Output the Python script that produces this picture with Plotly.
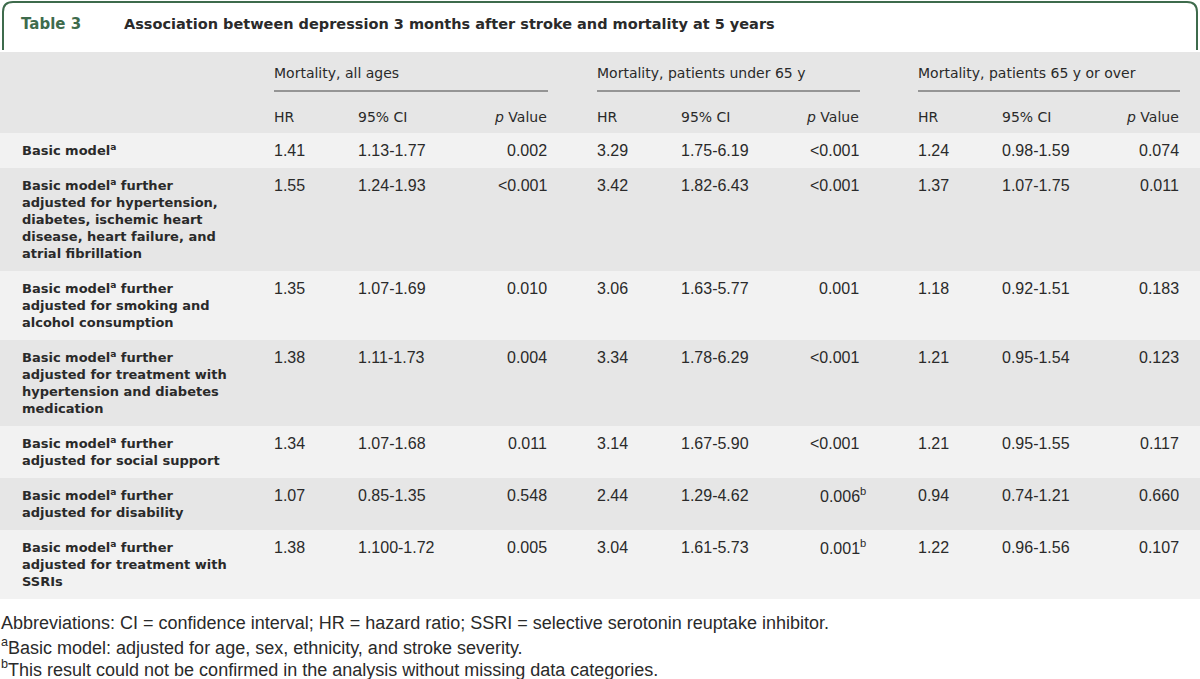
import plotly.graph_objects as go

# ---------------- data ----------------
table_tag = "Table 3"
table_title = "Association between depression 3 months after stroke and mortality at 5 years"
group_headers = ["Mortality, all ages", "Mortality, patients under 65 y", "Mortality, patients 65 y or over"]
sub_headers = ["HR", "95% CI", "<i>p</i> Value"]

row_labels = [
    ["Basic model<sup>a</sup>"],
    ["Basic model<sup>a</sup> further", "adjusted for hypertension,", "diabetes, ischemic heart",
     "disease, heart failure, and", "atrial fibrillation"],
    ["Basic model<sup>a</sup> further", "adjusted for smoking and", "alcohol consumption"],
    ["Basic model<sup>a</sup> further", "adjusted for treatment with", "hypertension and diabetes", "medication"],
    ["Basic model<sup>a</sup> further", "adjusted for social support"],
    ["Basic model<sup>a</sup> further", "adjusted for disability"],
    ["Basic model<sup>a</sup> further", "adjusted for treatment with", "SSRIs"],
]

hr_all = ["1.41", "1.55", "1.35", "1.38", "1.34", "1.07", "1.38"]
ci_all = ["1.13-1.77", "1.24-1.93", "1.07-1.69", "1.11-1.73", "1.07-1.68", "0.85-1.35", "1.100-1.72"]
p_all = ["0.002", "&lt;0.001", "0.010", "0.004", "0.011", "0.548", "0.005"]

hr_under65 = ["3.29", "3.42", "3.06", "3.34", "3.14", "2.44", "3.04"]
ci_under65 = ["1.75-6.19", "1.82-6.43", "1.63-5.77", "1.78-6.29", "1.67-5.90", "1.29-4.62", "1.61-5.73"]
p_under65 = ["&lt;0.001", "&lt;0.001", "0.001", "&lt;0.001", "&lt;0.001", "0.006", "0.001"]
p_under65_notes = ["", "", "", "", "", "b", "b"]

hr_over65 = ["1.24", "1.37", "1.18", "1.21", "1.21", "0.94", "1.22"]
ci_over65 = ["0.98-1.59", "1.07-1.75", "0.92-1.51", "0.95-1.54", "0.95-1.55", "0.74-1.21", "0.96-1.56"]
p_over65 = ["0.074", "0.011", "0.183", "0.123", "0.117", "0.660", "0.107"]

footnotes = [
    "Abbreviations: CI = confidence interval; HR = hazard ratio; SSRI = selective serotonin reuptake inhibitor.",
    "<sup>a</sup>Basic model: adjusted for age, sex, ethnicity, and stroke severity.",
    "<sup>b</sup>This result could not be confirmed in the analysis without missing data categories.",
]

# ---------------- style / layout ----------------
W, H = 1200, 679
GREEN = "#3e6b4c"
TXT = "#2a2a2a"
DARK_BG = "#e6e6e6"
LIGHT_BG = "#f2f2f2"
HEAD_FONT = "DejaVu Sans"
NUM_FONT = "Liberation Sans"

group_x = [273, 596, 917]          # left of HR column per group
ci_off = 84                         # CI column offset from HR
p_right = [548, 860, 1180]          # right edge of p column per group

header_top, header_bottom = 52, 133
group_y, underline_y, sub_y = 73, 91, 117
line_h, pad, first_off = 17.0, 18.0, 17.5
SUP_SHIFT = 1  # superscript enlarges the text box; recentre the baseline

fig = go.Figure()
fig.add_trace(go.Scatter(x=[0, W], y=[0, H], mode="markers", marker=dict(opacity=0),
                         hoverinfo="skip", showlegend=False))

shapes = []
ann = []

def text(x, y, s, size, family, color=TXT, anchor="left", bold=False):
    if "<sup>" in s:
        y -= SUP_SHIFT
    if bold:
        s = "<b>" + s + "</b>"
    ann.append(dict(x=x, y=y, xref="x", yref="y", text=s, showarrow=False,
                    xanchor=anchor, yanchor="middle", borderpad=0,
                    font=dict(size=size, family=family, color=color)))

# title tab
r = 10
path = (f"M 3 50 L 3 {2 + r} Q 3 2 {3 + r} 2 L {1197 - r} 2 Q 1197 2 1197 {2 + r} L 1197 50")
shapes.append(dict(type="path", path=path, xref="x", yref="y",
                   line=dict(color=GREEN, width=2)))
text(20, 24, table_tag, 15, HEAD_FONT, color=GREEN, bold=True)
text(123, 24, table_title, 14.5, HEAD_FONT, bold=True)

# header band
shapes.append(dict(type="rect", x0=0, x1=W, y0=header_top, y1=header_bottom, xref="x", yref="y",
                   fillcolor=DARK_BG, line=dict(width=0), layer="below"))
for g, gx in enumerate(group_x):
    text(gx, group_y, group_headers[g], 14, HEAD_FONT)
    shapes.append(dict(type="line", x0=gx + 1, x1=p_right[g], y0=underline_y, y1=underline_y,
                       xref="x", yref="y", line=dict(color="#444444", width=1)))
    text(gx, sub_y, sub_headers[0], 14, HEAD_FONT)
    text(gx + ci_off, sub_y, sub_headers[1], 14, HEAD_FONT)
    text(p_right[g], sub_y, sub_headers[2], 14, HEAD_FONT, anchor="right")

# body rows
cols = [(hr_all, ci_all, p_all), (hr_under65, ci_under65, p_under65), (hr_over65, ci_over65, p_over65)]
top = header_bottom
for i, lines in enumerate(row_labels):
    h = len(lines) * line_h + pad
    shapes.append(dict(type="rect", x0=0, x1=W, y0=top, y1=top + h, xref="x", yref="y",
                       fillcolor=LIGHT_BG if i % 2 == 0 else DARK_BG, line=dict(width=0), layer="below"))
    y0 = top + first_off
    for k, ln in enumerate(lines):
        text(21, y0 + k * line_h, ln, 13, HEAD_FONT, bold=True)
    for g, (hr, ci, pv) in enumerate(cols):
        text(group_x[g], y0, hr[i], 16, NUM_FONT)
        text(group_x[g] + ci_off, y0, ci[i], 16, NUM_FONT)
        if g == 1 and p_under65_notes[i]:
            text(p_right[g] + 7, y0, pv[i] + "<sup>" + p_under65_notes[i] + "</sup>", 16, NUM_FONT,
                 anchor="right")
        else:
            text(p_right[g], y0, pv[i], 16, NUM_FONT, anchor="right")
    top += h

# footnotes
foot_y = [623, 647, 669]
for s, fy in zip(footnotes, foot_y):
    text(0, fy, s, 18, NUM_FONT)

fig.update_layout(
    width=W, height=H, margin=dict(l=0, r=0, t=0, b=0),
    paper_bgcolor="white", plot_bgcolor="white",
    xaxis=dict(range=[0, W], visible=False, fixedrange=True),
    yaxis=dict(range=[H, 0], visible=False, fixedrange=True),
    shapes=shapes, annotations=ann, showlegend=False,
)
fig.write_html("out.html", config={"displayModeBar": False},
               post_script="document.body.style.margin='0';document.body.style.overflow='hidden';")
